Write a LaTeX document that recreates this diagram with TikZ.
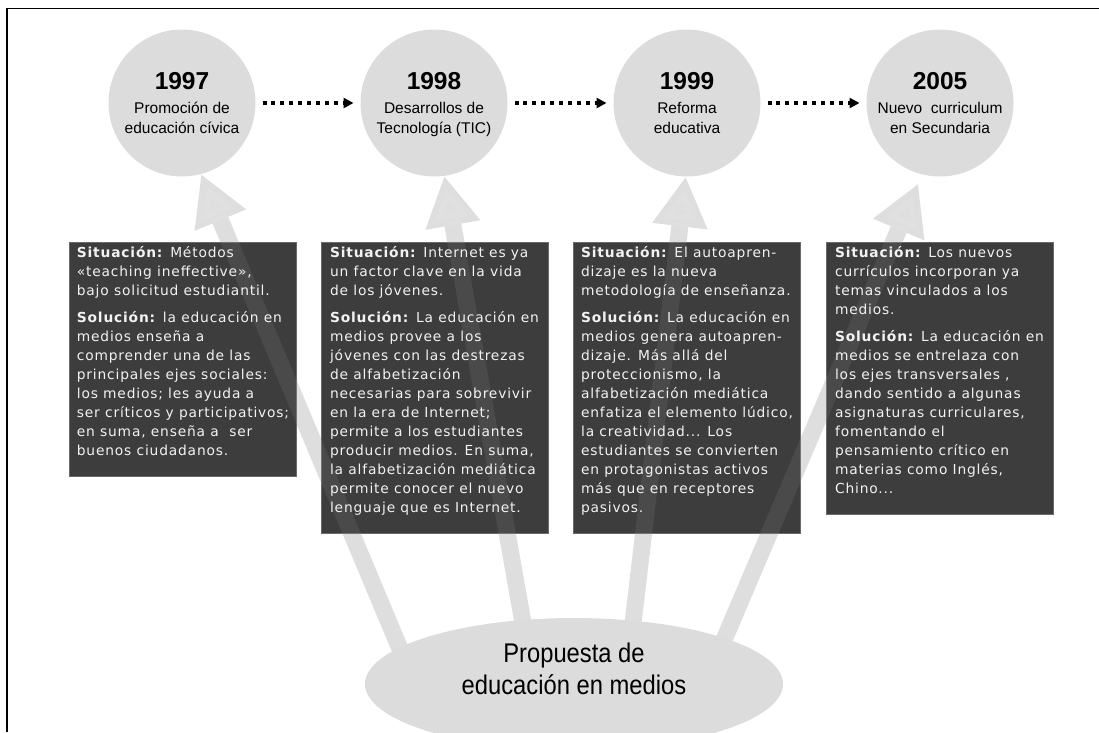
\documentclass[tikz,border=0pt]{standalone}
\usepackage{fontspec}
\setmainfont{Liberation Sans}
\newfontfamily\boxfont[LetterSpace=6]{DejaVu Sans}
\newfontfamily\narrowfont[FakeStretch=0.88]{Liberation Sans}
\usetikzlibrary{arrows.meta,shapes.geometric}
\definecolor{circlegray}{HTML}{DCDCDC}
\definecolor{boxgray}{HTML}{3D3D3D}
\definecolor{boxedge}{HTML}{6A6A6A}
\definecolor{boxtext}{HTML}{F2F2F2}
\tikzstyle{yearnode}=[circle, fill=circlegray, minimum size=147pt, inner sep=0pt, outer sep=0pt, text depth=0pt, align=center, font=\fontsize{15.5}{20}\selectfont]
\tikzstyle{infobox}=[anchor=north, fill=boxgray, draw=boxedge, line width=0.6pt, text=boxtext, align=left, minimum width=227pt, inner xsep=2pt, inner ysep=4pt, text depth=17pt, font=\boxfont\fontsize{13.8}{19}\selectfont]
\tikzstyle{timeline}=[line width=3.5pt, dash pattern=on 4pt off 4.9pt, -{Triangle[length=10pt,width=10pt]}, shorten <=7pt, shorten >=7pt]
\tikzstyle{bigArrow}=[line width=17pt, draw=circlegray, -{Triangle[length=50pt,width=52pt]}]
\tikzstyle{ghostArrow}=[bigArrow, draw=white, opacity=0.07]
\newcommand{\yr}[1]{{\fontsize{24.5}{28}\selectfont\bfseries #1}}

\begin{document}
\begin{tikzpicture}[x=1pt, y=-1pt]
    \useasboundingbox (0,0) rectangle (1099,732);
    \clip (0,0) rectangle (1099,732);

    % years
    \node[yearnode] (c1) at (182,103) {\yr{1997}\\[4pt] Promoción de\\educación cívica};
    \node[yearnode] (c2) at (434,103) {\yr{1998}\\[4pt] Desarrollos de\\Tecnología (TIC)};
    \node[yearnode] (c3) at (687,103) {\yr{1999}\\[4pt] Reforma\\educativa};
    \node[yearnode] (c4) at (940,103) {\yr{2005}\\[4pt] Nuevo \ curriculum\\en Secundaria};

    % timeline
    \draw[timeline] (c1) -- (c2);
    \draw[timeline] (c2) -- (c3);
    \draw[timeline] (c3) -- (c4);

    % arrows from the proposal
    \coordinate (t1) at (408,668);
    \coordinate (t2) at (526,640);
    \coordinate (t3) at (631,640);
    \coordinate (t4) at (712,668);
    \draw[bigArrow] (t1) -- (c1.-75);
    \draw[bigArrow] (t2) -- (c2.-82);
    \draw[bigArrow] (t3) -- (c3.-91);
    \draw[bigArrow, shorten >=10pt] (t4) -- (c4.-104);

    % situation / solution boxes
    \node[infobox] (s1) at (183,242) {\textbf{Situación:} Métodos\\
        «teaching ineffective»,\\
        bajo solicitud estudiantil.\\[8pt]
        \textbf{Solución:} la educación en\\
        medios enseña a\\
        comprender una de las\\
        principales ejes sociales:\\
        los medios; les ayuda a\\
        ser críticos y participativos;\\
        en suma, enseña a \ ser\\
        buenos ciudadanos.};
    \node[infobox] (s2) at (434.5,242) {\textbf{Situación:} Internet es ya\\
        un factor clave en la vida\\
        de los jóvenes.\\[8pt]
        \textbf{Solución:} La educación en\\
        medios provee a los\\
        jóvenes con las destrezas\\
        de alfabetización\\
        necesarias para sobrevivir\\
        en la era de Internet;\\
        permite a los estudiantes\\
        producir medios. En suma,\\
        la alfabetización mediática\\
        permite conocer el nuevo\\
        lenguaje que es Internet.};
    \node[infobox] (s3) at (687,242) {\textbf{Situación:} El autoapren-\\
        dizaje es la nueva\\
        metodología de enseñanza.\\[8pt]
        \textbf{Solución:} La educación en\\
        medios genera autoapren-\\
        dizaje. Más allá del\\
        proteccionismo, la\\
        alfabetización mediática\\
        enfatiza el elemento lúdico,\\
        la creatividad... Los\\
        estudiantes se convierten\\
        en protagonistas activos\\
        más que en receptores\\
        pasivos.};
    \node[infobox] (s4) at (939.5,242) {\textbf{Situación:} Los nuevos\\
        currículos incorporan ya\\
        temas vinculados a los\\
        medios.\\[8pt]
        \textbf{Solución:} La educación en\\
        medios se entrelaza con\\
        los ejes transversales ,\\
        dando sentido a algunas\\
        asignaturas curriculares,\\
        fomentando el\\
        pensamiento crítico en\\
        materias como Inglés,\\
        Chino...};

    % arrows seen through the boxes
    \draw[ghostArrow] (t1) -- (c1.-75);
    \draw[ghostArrow] (t2) -- (c2.-82);
    \draw[ghostArrow] (t3) -- (c3.-91);
    \draw[ghostArrow, shorten >=10pt] (t4) -- (c4.-104);

    % proposal
    \node[ellipse, fill=circlegray, minimum width=418pt, minimum height=132pt, inner sep=0pt, text depth=30pt, align=center, font=\narrowfont\fontsize{27}{32}\selectfont] (prop) at (574,684) {Propuesta de\\educación en medios};

    % frame
    \draw[line width=1.8pt] (7,732) -- (7,8.5) -- (1099,8.5);
\end{tikzpicture}
\end{document}
